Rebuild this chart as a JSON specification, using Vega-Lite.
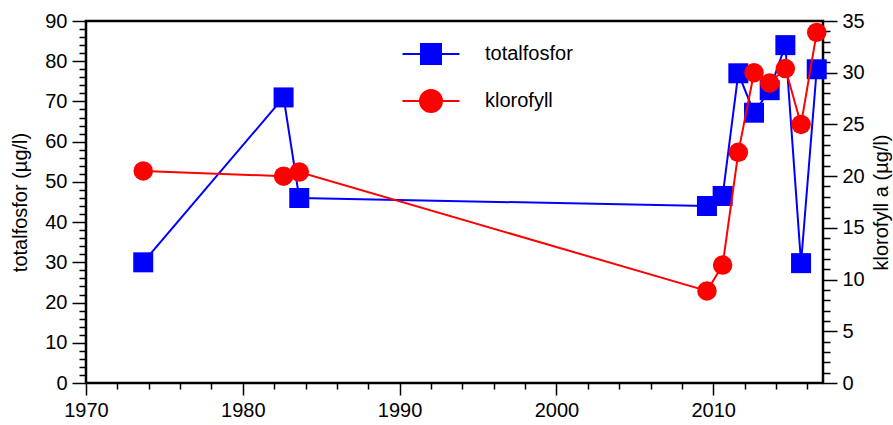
{
  "$schema": "https://vega.github.io/schema/vega-lite/v6.json",
  "width": 737,
  "height": 362,
  "autosize": {"type": "none"},
  "padding": {"left": 86, "top": 21, "right": 70, "bottom": 42},
  "background": "white",
  "config": {
    "font": "Liberation Sans",
    "view": {"stroke": "#000000", "strokeWidth": 2.5},
    "axis": {"grid": false, "domain": false, "tickColor": "#000000", "tickWidth": 1.5, "labelColor": "#000000", "titleColor": "#000000", "labelFont": "Liberation Sans", "titleFont": "Liberation Sans", "titleFontWeight": "normal", "labelFontSize": 20, "titleFontSize": 20, "labelPadding": 5, "labelOverlap": false, "labelBound": false, "labelFlush": false}
  },
  "data": {
    "values": [
      {"year": 1973.65, "tp": 30.0, "chl": 20.5},
      {"year": 1982.6, "tp": 71.0, "chl": 20.0},
      {"year": 1983.6, "tp": 46.0, "chl": 20.4},
      {"year": 2009.6, "tp": 44.0, "chl": 8.9},
      {"year": 2010.6, "tp": 46.5, "chl": 11.4},
      {"year": 2011.6, "tp": 77.0, "chl": 22.3},
      {"year": 2012.6, "tp": 67.2, "chl": 30.0},
      {"year": 2013.6, "tp": 72.8, "chl": 29.0},
      {"year": 2014.6, "tp": 84.0, "chl": 30.4},
      {"year": 2015.6, "tp": 29.8, "chl": 25.0},
      {"year": 2016.6, "tp": 78.0, "chl": 33.9}
    ]
  },
  "layer": [
    {
      "mark": {"type": "line", "strokeWidth": 2},
      "encoding": {
        "x": {"field": "year", "type": "quantitative", "scale": {"domain": [1970, 2017], "nice": false, "zero": false},
          "axis": {"orient": "bottom", "values": [1970, 1972, 1974, 1976, 1978, 1980, 1982, 1984, 1986, 1988, 1990, 1992, 1994, 1996, 1998, 2000, 2002, 2004, 2006, 2008, 2010, 2012, 2014, 2016],
            "format": "d", "labelExpr": "datum.value % 10 === 0 ? datum.label : ''", "labelOverlap": false,
            "tickSize": {"condition": {"test": "datum.value % 10 === 0", "value": 12}, "value": 6}, "title": null}},
        "y": {"field": "tp", "type": "quantitative", "scale": {"domain": [0, 90], "nice": false},
          "axis": {"orient": "left", "values": [0, 2, 4, 6, 8, 10, 12, 14, 16, 18, 20, 22, 24, 26, 28, 30, 32, 34, 36, 38, 40, 42, 44, 46, 48, 50, 52, 54, 56, 58, 60, 62, 64, 66, 68, 70, 72, 74, 76, 78, 80, 82, 84, 86, 88, 90],
            "labelExpr": "datum.value % 10 === 0 ? datum.label : ''", "labelOverlap": false,
            "tickSize": {"condition": {"test": "datum.value % 10 === 0", "value": 14}, "value": 7},
            "title": "totalfosfor (µg/l)", "titlePadding": 14}},
        "color": {"datum": "totalfosfor", "type": "nominal",
          "scale": {"domain": ["totalfosfor", "klorofyll"], "range": ["#0000ff", "#ff0000"]},
          "legend": {
            "title": null, "orient": "none", "legendX": 324, "legendY": 12, "padding": 0,
            "symbolSize": 1600, "rowPadding": 12, "labelOffset": 33, "labelFontSize": 20, "labelColor": "#000000", "labelFont": "Liberation Sans",
            "encode": {"symbols": {"update": {
              "shape": {"signal": "datum.value === 'totalfosfor' ? 'M-1.425,0H1.425M-0.5,-0.5H0.5V0.5H-0.5Z' : 'M-1.425,0H1.425M0.55,0A0.55,0.55 0 1 1 -0.55,0A0.55,0.55 0 1 1 0.55,0Z'"},
              "fill": {"signal": "datum.value === 'totalfosfor' ? '#0000ff' : '#ff0000'"},
              "stroke": {"signal": "datum.value === 'totalfosfor' ? '#0000ff' : '#ff0000'"},
              "strokeWidth": {"value": 2},
              "opacity": {"value": 1},
              "fillOpacity": {"value": 1}
            }}}
          }}
      }
    },
    {
      "mark": {"type": "point", "shape": "square", "filled": true, "size": 400, "opacity": 1},
      "encoding": {
        "x": {"field": "year", "type": "quantitative", "axis": null},
        "y": {"field": "tp", "type": "quantitative", "scale": {"domain": [0, 90], "nice": false}, "axis": null},
        "color": {"datum": "totalfosfor", "type": "nominal"}
      }
    },
    {
      "mark": {"type": "line", "strokeWidth": 2},
      "encoding": {
        "x": {"field": "year", "type": "quantitative", "axis": null},
        "y": {"field": "chl", "type": "quantitative", "scale": {"domain": [0, 35], "nice": false},
          "axis": {"orient": "right", "values": [0, 1, 2, 3, 4, 5, 6, 7, 8, 9, 10, 11, 12, 13, 14, 15, 16, 17, 18, 19, 20, 21, 22, 23, 24, 25, 26, 27, 28, 29, 30, 31, 32, 33, 34, 35],
            "labelExpr": "datum.value % 5 === 0 ? datum.label : ''", "labelOverlap": false,
            "tickSize": {"condition": {"test": "datum.value % 5 === 0", "value": 14}, "value": 7},
            "title": "klorofyll a (µg/l)", "titlePadding": 7, "titleAngle": 270, "titleBaseline": "top"}},
        "color": {"datum": "klorofyll", "type": "nominal"}
      }
    },
    {
      "mark": {"type": "point", "shape": "circle", "filled": true, "size": 380, "opacity": 1},
      "encoding": {
        "x": {"field": "year", "type": "quantitative", "axis": null},
        "y": {"field": "chl", "type": "quantitative", "scale": {"domain": [0, 35], "nice": false}, "axis": null},
        "color": {"datum": "klorofyll", "type": "nominal"}
      }
    }
  ],
  "resolve": {
    "scale": {"y": "independent", "x": "shared", "color": "shared"},
    "axis": {"x": "independent", "y": "independent"}
  }
}
